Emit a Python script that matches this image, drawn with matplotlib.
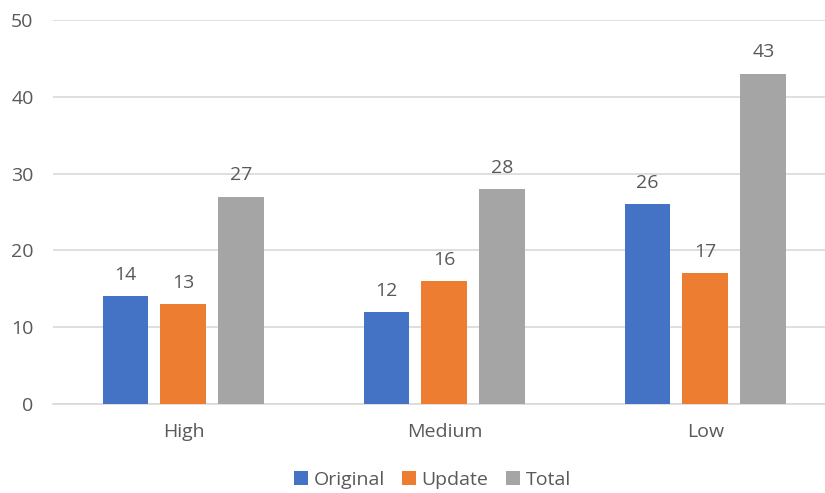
import numpy as np
import matplotlib.pyplot as plt

plt.rcParams['font.family'] = ['Open Sans', 'DejaVu Sans']

categories = ['High', 'Medium', 'Low']
series_names = ['Original', 'Update', 'Total']
original = [14, 12, 26]
update = [13, 16, 17]
total = [27, 28, 43]
colors = ['#4472C4', '#ED7D31', '#A5A5A5']
text_color = '#595959'

fig = plt.figure(figsize=(8.25, 4.93), dpi=100)
ax = fig.add_axes([0.0642, 0.1805, 0.949, 0.779])

x = np.arange(len(categories))
width = 0.176
step = 0.222
for i, (vals, name, col) in enumerate(zip([original, update, total], series_names, colors)):
    pos = x + (i - 1) * step
    bars = ax.bar(pos, vals, width, color=col, label=name, zorder=3)
    for b, v in zip(bars, vals):
        ax.text(b.get_x() + b.get_width() / 2, v + 1.6, str(v), ha='center', va='bottom',
                fontsize=14, color=text_color)

ax.set_xlim(-0.5, 2.5)
ax.set_ylim(0, 50)
ax.set_yticks(range(0, 51, 10))
ax.yaxis.grid(True, color='#D9D9D9', linewidth=1.2, zorder=0)
for s in ['top', 'right', 'left']:
    ax.spines[s].set_visible(False)
ax.spines['bottom'].set_color('#D9D9D9')
ax.spines['bottom'].set_linewidth(1.2)
ax.set_xticks(x)
ax.set_xticklabels(categories)
ax.tick_params(axis='both', length=0, labelsize=14, colors=text_color)
ax.tick_params(axis='x', pad=14)
ax.tick_params(axis='y', pad=14)

fig.legend(loc='center', bbox_to_anchor=(0.524, 0.027), ncol=3, frameon=False,
           fontsize=14, labelcolor=text_color, handlelength=0.7, handleheight=0.7,
           handletextpad=0.3, columnspacing=0.9)

fig.savefig('out.png', dpi=100)
